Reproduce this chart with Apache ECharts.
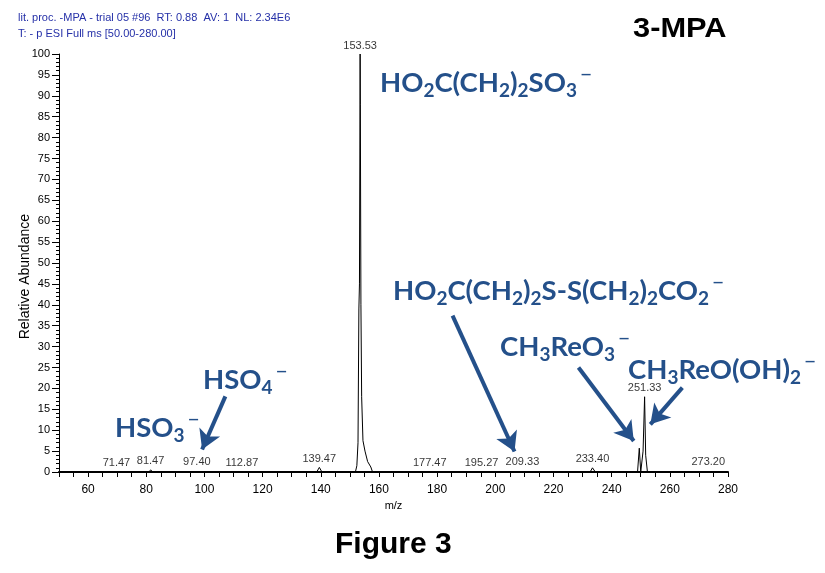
<!DOCTYPE html>
<html>
<head>
<meta charset="utf-8">
<script src="https://cdn.jsdelivr.net/npm/echarts@6/dist/echarts.min.js"></script>
<style>
  html, body { margin: 0; padding: 0; background: #fff; }
  #chart { width: 825px; height: 573px; }
</style>
</head>
<body>
<div id="chart"></div>
<script>
// profile spectrum (m/z, relative abundance)
const specMz = [50, 70.9, 71.3, 71.7, 80.9, 81.5, 82.3, 96.9, 97.4, 97.9, 112.6, 112.9, 113.2,
  138.6, 139.5, 140.4, 151.9, 152.4, 152.8, 153.1, 153.3, 153.53, 153.6, 153.8, 154.05, 154.5,
  155.2, 156.1, 157.2, 157.8, 177.2, 177.5, 177.8, 208.9, 209.3, 209.7, 232.6, 233.4, 234.4,
  248.9, 249.5, 250.0, 250.4, 250.8, 251.33, 251.7, 252.3, 272.9, 273.2, 273.5, 280];
const specAbund = [0, 0, 0.1, 0, 0, 0.5, 0, 0, 0.4, 0, 0, 0.1, 0,
  0, 1.1, 0, 0, 1.5, 7, 39, 45, 100, 88, 40, 18, 7.5,
  5, 2.5, 1.2, 0, 0, 0.1, 0, 0, 0.3, 0, 0, 1.0, 0,
  0, 5.7, 0, 0, 5, 18, 4, 0, 0, 0.3, 0, 0];

// labelled peaks
const peakMz = [71.47, 81.47, 97.40, 112.87, 139.47, 153.53, 177.47, 195.27, 209.33, 233.40, 251.33, 273.20];
const peakAbund = [0.1, 0.5, 0.4, 0.1, 1.1, 100, 0.1, 0.1, 0.3, 1.0, 18, 0.3];

// annotation arrows, tail -> head in data units
const arrowFrom = [[107.2, 18.1], [185.3, 37.4], [228.6, 25.0], [264.3, 20.2]];
const arrowTo = [[99.2, 5.4], [206.6, 4.9], [247.6, 7.4], [253.3, 11.4]];

const blue = '#24508a';
const richStyles = {
  b: {fontFamily: 'Lato', fontWeight: 'bold', fontSize: 27.5, fill: blue, color: blue},
  s: {fontFamily: 'Lato', fontWeight: 'bold', fontSize: 19, fill: blue, color: blue, padding: [15, 0, 0, 0]},
  m: {fontFamily: 'Lato', fontSize: 21, fill: blue, color: blue, padding: [0, 0, 15, 3]}
};

function formula(text, left, top) {
  return {
    type: 'text', left: left, top: top, silent: true,
    style: {text: text, rich: richStyles, fill: blue}
  };
}

const chart = echarts.init(document.getElementById('chart'));

const option = {
  animation: false,
  backgroundColor: '#fff',
  textStyle: {fontFamily: 'Liberation Sans'},
  grid: {left: 59, right: 97, top: 54, bottom: 101},
  xAxis: {
    type: 'value', min: 50, max: 280, interval: 5,
    name: 'm/z', nameLocation: 'middle', nameGap: 23,
    nameTextStyle: {fontSize: 11, color: '#000'},
    axisLine: {lineStyle: {color: '#000', width: 2}},
    axisTick: {length: 5, lineStyle: {color: '#000', width: 1}},
    axisLabel: {
      fontSize: 12, color: '#000', margin: 12,
      formatter: v => (v % 20 === 0 ? String(v) : '')
    },
    splitLine: {show: false}
  },
  yAxis: {
    type: 'value', min: 0, max: 100, interval: 5,
    axisLine: {show: true, lineStyle: {color: '#000', width: 1}},
    axisTick: {length: 7, lineStyle: {color: '#000'}},
    minorTick: {show: true, splitNumber: 5, length: 3, lineStyle: {color: '#000'}},
    axisLabel: {fontSize: 11, color: '#000', margin: 9},
    splitLine: {show: false}
  },
  graphic: [
    {type: 'text', left: 18, top: 12, silent: true,
      style: {text: 'lit. proc. -MPA - trial 05 #96  RT: 0.88  AV: 1  NL: 2.34E6',
        fontFamily: 'Liberation Sans', fontSize: 11, fill: '#2530a8'}},
    {type: 'text', left: 18, top: 28, silent: true,
      style: {text: 'T: - p ESI Full ms [50.00-280.00]',
        fontFamily: 'Liberation Sans', fontSize: 11, fill: '#2530a8'}},
    {type: 'text', left: 633, top: 15, scaleX: 1.1, silent: true,
      style: {text: '3-MPA', fontFamily: 'Liberation Sans', fontWeight: 'bold', fontSize: 28, fill: '#000'}},
    {type: 'text', left: 335, top: 530, silent: true,
      style: {text: 'Figure 3', fontFamily: 'Liberation Sans', fontWeight: 'bold', fontSize: 30, fill: '#000'}},
    {type: 'text', left: 18, top: 214, rotation: Math.PI / 2, silent: true,
      style: {text: 'Relative Abundance', fontFamily: 'Liberation Sans', fontSize: 14, fill: '#000'}},
    formula('{b|HO}{s|2}{b|C(CH}{s|2}{b|)}{s|2}{b|SO}{s|3}{m|−}', 380, 65),
    formula('{b|HO}{s|2}{b|C(CH}{s|2}{b|)}{s|2}{b|S-S(CH}{s|2}{b|)}{s|2}{b|CO}{s|2}{m|−}', 393, 273),
    formula('{b|CH}{s|3}{b|ReO}{s|3}{m|−}', 500, 329),
    formula('{b|CH}{s|3}{b|ReO(OH)}{s|2}{m|−}', 628, 352),
    formula('{b|HSO}{s|4}{m|−}', 203, 362),
    formula('{b|HSO}{s|3}{m|−}', 115, 410)
  ],
  series: [
    {
      type: 'line',
      data: specMz.map((m, i) => [m, specAbund[i]]),
      showSymbol: false,
      lineStyle: {color: '#000', width: 1},
      silent: true,
      markLine: {
        silent: true,
        symbol: ['none', 'arrow'],
        symbolSize: [17, 19],
        label: {show: false},
        lineStyle: {color: blue, width: 4, type: 'solid'},
        data: arrowFrom.map((f, i) => [{coord: f}, {coord: arrowTo[i]}])
      }
    },
    {
      type: 'scatter',
      data: peakMz.map((m, i) => ({
        value: [m, peakAbund[i]],
        label: i === 0 ? {offset: [-5, 0]} : undefined
      })),
      symbolSize: 0,
      silent: true,
      label: {
        show: true, position: 'top', distance: 3,
        fontSize: 11, color: '#000',
        formatter: p => peakMz[p.dataIndex].toFixed(2)
      }
    }
  ]
};

chart.setOption(option);
</script>
</body>
</html>
